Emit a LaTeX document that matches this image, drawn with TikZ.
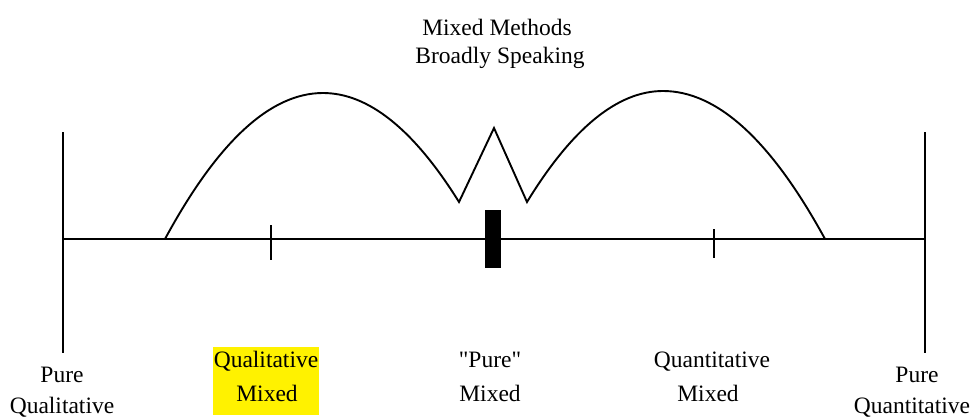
\documentclass[tikz,border=0pt]{standalone}
\usepackage{fontspec}
\setmainfont{Liberation Serif}[Ligatures=TeXOff]
\begin{document}
\begin{tikzpicture}[x=1pt,y=-1pt,
  axis/.style={line width=1.9pt, black},
  curve/.style={line width=1.9pt, black, line join=miter},
  lbl/.style={font=\fontsize{23.5}{28}\selectfont, inner sep=0pt, anchor=base}]
\useasboundingbox (0,0) rectangle (973,418);
% key points
\coordinate (L0) at (63,239);
\coordinate (R0) at (925,239);
\coordinate (Ltop) at (63,132);
\coordinate (Lbot) at (63,353);
\coordinate (Rtop) at (925,132);
\coordinate (Rbot) at (925,353);
\coordinate (A0) at (165,239);
\coordinate (A1) at (323,93);
\coordinate (V1) at (459,202);
\coordinate (Z) at (494,128);
\coordinate (V2) at (527,202);
\coordinate (B1) at (663,91);
\coordinate (B0) at (825,239);
\coordinate (T1a) at (271,225);
\coordinate (T1b) at (271,260);
\coordinate (T2a) at (714,229);
\coordinate (T2b) at (714,258);
% highlight
\fill[yellow] (213,347) rectangle (319,415);
% axis
\draw[axis] (L0) -- (R0);
\draw[axis] (Ltop) -- (Lbot);
\draw[axis] (Rtop) -- (Rbot);
\draw[axis] (T1a) -- (T1b);
\draw[axis] (T2a) -- (T2b);
\fill[black] (485,210) rectangle (501,268);
% curve
\draw[curve] (A0) .. controls (217.7,141.7) and (270.3,93) .. (A1)
  .. controls (368.3,93) and (413.7,129.3) .. (V1)
  -- (Z) -- (V2)
  .. controls (572.3,128) and (617.7,91) .. (B1)
  .. controls (717,91) and (771,140) .. (B0);
% texts
\node[lbl] (t1) at (497,35) {Mixed Methods};
\node[lbl] (t2) at (500,63) {Broadly Speaking};
\node[lbl] (pq1) at (62,382) {Pure};
\node[lbl] (pq2) at (62,413) {Qualitative};
\node[lbl] (qm1) at (266,367) {Qualitative};
\node[lbl] (qm2) at (267,401) {Mixed};
\node[lbl] (pm1) at (490,367) {"Pure"};
\node[lbl] (pm2) at (490,401) {Mixed};
\node[lbl] (nm1) at (712,367) {Quantitative};
\node[lbl] (nm2) at (708,401) {Mixed};
\node[lbl] (pn1) at (917,382) {Pure};
\node[lbl] (pn2) at (912,413) {Quantitative};
\end{tikzpicture}
\end{document}
